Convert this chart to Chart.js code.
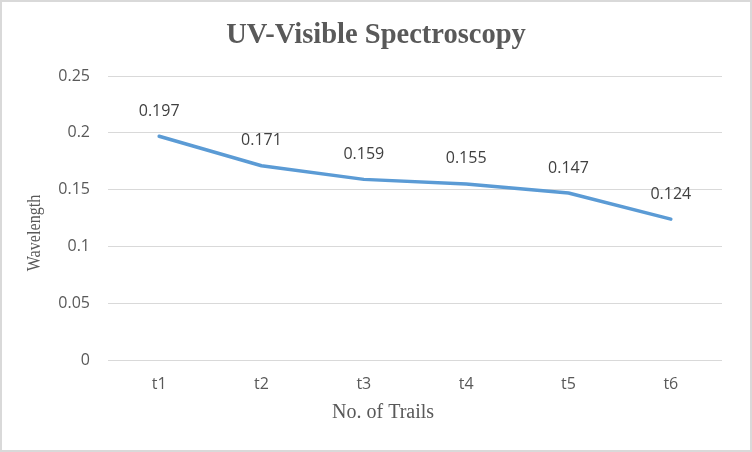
<!DOCTYPE html>
<html><head><meta charset="utf-8">
<script src="https://cdn.jsdelivr.net/npm/chart.js@4"></script>
<style>html,body{margin:0;padding:0;background:#fff}#wrap{width:752px;height:452px;position:relative}</style>
</head><body><div id="wrap"><canvas id="c" width="752" height="452"></canvas></div>
<script>
const categories = ['t1','t2','t3','t4','t5','t6'];
const values = [0.197, 0.171, 0.159, 0.155, 0.147, 0.124];
const yTicks = [0, 0.05, 0.1, 0.15, 0.2, 0.25];
const chartTitle = 'UV-Visible Spectroscopy';
const xTitle = 'No. of Trails';
const yTitle = 'Wavelength';

const bgBorder = {
  id: 'bgBorder',
  beforeDraw(chart) {
    const c = chart.ctx;
    c.save();
    c.fillStyle = '#fff';
    c.fillRect(0, 0, chart.width, chart.height);
    c.strokeStyle = '#d9d9d9';
    c.lineWidth = 2;
    c.strokeRect(1, 1, chart.width - 2, chart.height - 2);
    c.restore();
  }
};
const extraText = {
  id: 'extraText',
  afterDatasetsDraw(chart) {
    const c = chart.ctx;
    const meta = chart.getDatasetMeta(0);
    const area = chart.chartArea;
    c.save();
    c.textAlign = 'center';
    c.textBaseline = 'middle';
    c.fillStyle = '#595959';
    c.font = 'bold 28.5px "Liberation Serif"';
    c.fillText(chartTitle, chart.width / 2, 36);
    c.font = '16px "Open Sans"';
    c.fillStyle = '#404040';
    meta.data.forEach((pt, i) => {
      c.fillText(String(values[i]), pt.x, pt.y - 25);
    });
    c.fillStyle = '#595959';
    c.font = '20px "Liberation Serif"';
    c.fillText(xTitle, area.left + (area.right - area.left) * 0.448, 413);
    c.translate(35, 233);
    c.rotate(-Math.PI / 2);
    c.scale(0.85, 1);
    c.font = '19px "Liberation Serif"';
    c.fillText(yTitle, 0, 0);
    c.restore();
  }
};

new Chart(document.getElementById('c'), {
  type: 'line',
  data: { labels: categories, datasets: [{ data: values, borderColor: '#5B9BD5', borderWidth: 3.5, pointRadius: 0, tension: 0, borderJoinStyle: 'round', borderCapStyle: 'round' }] },
  options: {
    responsive: false, animation: false, devicePixelRatio: 1,
    layout: { padding: { left: 0, right: 30, top: 76, bottom: 0 } },
    plugins: {
      legend: { display: false }, tooltip: { enabled: false }, title: { display: false }
    },
    scales: {
      x: {
        offset: true,
        grid: { display: false, drawTicks: false },
        border: { display: false },
        ticks: { color: '#595959', font: { family: '"Open Sans"', size: 16 }, padding: 15 },
        afterFit(s) { s.height = 92; }
      },
      y: {
        min: 0, max: 0.25,
        afterBuildTicks(s) { s.ticks = yTicks.map(v => ({ value: v })); },
        grid: { color: '#d9d9d9', lineWidth: 1, drawTicks: false },
        border: { display: false },
        ticks: { color: '#595959', font: { family: '"Open Sans"', size: 16 }, padding: 18, callback: v => String(v) },
        afterFit(s) { s.width = 108; }
      }
    }
  },
  plugins: [bgBorder, extraText]
});
</script></body></html>
